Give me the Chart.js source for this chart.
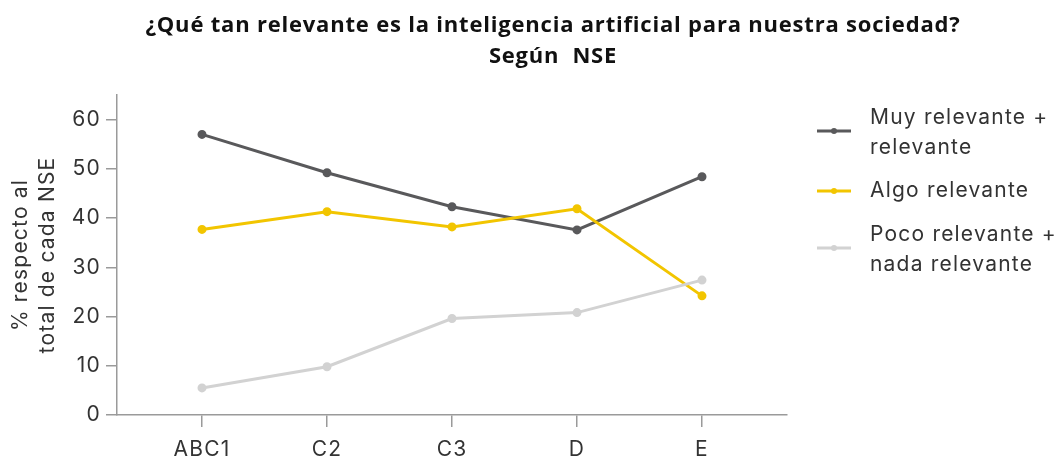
<!DOCTYPE html>
<html><head><meta charset="utf-8">
<script src="https://cdn.jsdelivr.net/npm/chart.js@4.4.1/dist/chart.umd.min.js"></script>
<style>html,body{margin:0;padding:0;background:#fff}#wrap{width:1058px;height:457px;position:relative}</style>
</head><body><div id="wrap"><canvas id="c" width="1058" height="457"></canvas></div>
<script>
const categories = ["ABC1", "C2", "C3", "D", "E"];
const muyRelevante = [57.0, 49.2, 42.3, 37.6, 48.4];
const algoRelevante = [37.7, 41.3, 38.2, 41.9, 24.2];
const pocoRelevante = [5.5, 9.8, 19.6, 20.8, 27.4];
const yTicks = [0, 10, 20, 30, 40, 50, 60];
const seriesNames = [["Muy relevante +", "relevante"], ["Algo relevante"], ["Poco relevante +", "nada relevante"]];
const titleLines = ["¿Qué tan relevante es la inteligencia artificial para nuestra sociedad?", "Según  NSE"];
const yTitle = ["% respecto al", "total de cada NSE"];

const FONT = "Inter, 'Open Sans', sans-serif";
const colors = ["#59595b", "#f2c500", "#d2d2d2"];
const series = [muyRelevante, algoRelevante, pocoRelevante];

const spacingPlugin = {
  id: 'spacing',
  beforeDraw(chart) { chart.ctx.letterSpacing = "1.2px"; }
};

const decorPlugin = {
  id: 'decor',
  afterDraw(chart) {
    const ctx = chart.ctx;
    ctx.save();
    // title
    ctx.letterSpacing = "0.8px";
    ctx.fillStyle = "#111";
    ctx.font = "bold 22px 'Open Sans', sans-serif";
    ctx.textAlign = "center";
    ctx.textBaseline = "middle";
    ctx.fillText(titleLines[0], 553, 26);
    ctx.fillText(titleLines[1], 553, 57);
    // legend
    ctx.letterSpacing = "1.2px";
    const blocks = [{y: 118}, {y: 191}, {y: 235}];
    ctx.font = "21px " + FONT;
    ctx.textAlign = "left";
    blocks.forEach((b, i) => {
      const lines = seriesNames[i];
      const lh = 30;
      const sy = lines.length > 1 ? b.y + 13 : b.y;
      ctx.strokeStyle = colors[i];
      ctx.lineWidth = 3;
      ctx.beginPath(); ctx.moveTo(817, sy); ctx.lineTo(851, sy); ctx.stroke();
      ctx.fillStyle = colors[i];
      ctx.beginPath(); ctx.arc(834, sy, 3, 0, Math.PI * 2); ctx.fill();
      ctx.fillStyle = "#333";
      lines.forEach((t, k) => ctx.fillText(t, 870, b.y + k * lh));
    });
    ctx.restore();
  }
};

new Chart(document.getElementById('c'), {
  type: 'line',
  data: {
    datasets: series.map((s, i) => ({
      label: seriesNames[i].join(' '),
      data: s.map((v, k) => ({x: k, y: v})),
      borderColor: colors[i],
      backgroundColor: colors[i],
      borderWidth: 3,
      pointRadius: 3,
      pointHoverRadius: 3,
      tension: 0
    })).reverse()
  },
  options: {
    responsive: false,
    animation: false,
    layout: {padding: {top: 95, right: 271, bottom: 0, left: 8}},
    plugins: {legend: {display: false}, title: {display: false}, tooltip: {enabled: false}},
    scales: {
      x: {
        type: 'linear', min: -0.68, max: 4.68,
        afterBuildTicks: s => { s.ticks = categories.map((c, i) => ({value: i})); },
        afterFit: s => { s.height = 42; },
        ticks: {callback: v => categories[v], color: "#333", font: {family: FONT, size: 21}, padding: 10, maxRotation: 0, autoSkip: false},
        grid: {display: true, drawOnChartArea: false, drawTicks: true, tickLength: 12, color: "#9a9a9a", lineWidth: 1.5},
        border: {display: true, color: "#9a9a9a", width: 1.5}
      },
      y: {
        min: 0, max: 65,
        afterBuildTicks: s => { s.ticks = yTicks.map(v => ({value: v})); },
        afterFit: s => { s.width = 109; },
        ticks: {color: "#333", font: {family: FONT, size: 21}, padding: 5},
        grid: {display: true, drawOnChartArea: false, drawTicks: true, tickLength: 11, color: "#9a9a9a", lineWidth: 1.5},
        border: {display: true, color: "#9a9a9a", width: 1.5},
        title: {display: true, text: yTitle, color: "#333", font: {family: FONT, size: 21, lineHeight: 1.25}, padding: 0}
      }
    }
  },
  plugins: [spacingPlugin, decorPlugin]
});
</script></body></html>
